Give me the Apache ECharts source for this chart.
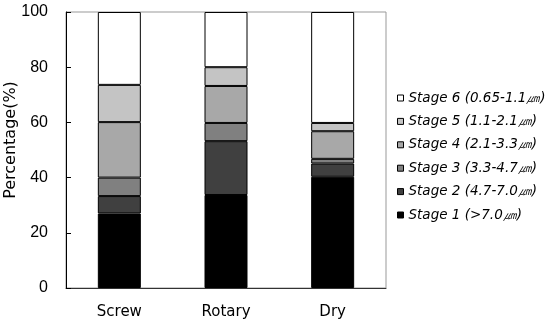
<!DOCTYPE html>
<html><head><meta charset="utf-8">
<script src="https://cdn.jsdelivr.net/npm/echarts@6/dist/echarts.min.js"></script>
<style>html,body{margin:0;padding:0;background:#fff}#c{width:550px;height:325px}</style>
</head><body><div id="c"></div>
<script>
const categories = ['Screw', 'Rotary', 'Dry'];
const stageNames = ['Stage 1 (>7.0㎛)', 'Stage 2 (4.7-7.0㎛)', 'Stage 3 (3.3-4.7㎛)', 'Stage 4 (2.1-3.3㎛)', 'Stage 5 (1.1-2.1㎛)', 'Stage 6 (0.65-1.1㎛)'];
const stage1 = [27.0, 33.7, 40.3];
const stage2 = [6.3, 19.5, 4.8];
const stage3 = [6.7, 6.6, 1.7];
const stage4 = [20.1, 13.4, 10.0];
const stage5 = [13.5, 6.8, 3.0];
const stage6 = [26.4, 20.0, 40.2];
const yTicks = [0, 20, 40, 60, 80, 100];
const colors = ['#000000', '#404040', '#808080', '#a8a8a8', '#c4c4c4', '#ffffff'];
const stages = [stage1, stage2, stage3, stage4, stage5, stage6];

const chart = echarts.init(document.getElementById('c'), null, {renderer: 'canvas'});
chart.setOption({
  animation: false,
  backgroundColor: '#fff',
  grid: {left: 66, right: 164, top: 12, bottom: 37, show: true, borderColor: '#999', borderWidth: 1, backgroundColor: 'transparent', containLabel: false, outerBoundsMode: 'none'},
  legend: {
    orient: 'vertical', left: 397, top: 91, padding: 0,
    data: stageNames.slice().reverse(),
    itemWidth: 6, itemHeight: 6, itemGap: 9.4,
    icon: 'rect',
    textStyle: {fontFamily: 'DejaVu Sans', fontStyle: 'italic', fontSize: 13.5, color: '#000', lineHeight: 14},
    itemStyle: {borderColor: '#000', borderWidth: 1}
  },
  xAxis: {
    type: 'category', data: categories,
    axisLine: {lineStyle: {color: '#333', width: 1}},
    axisTick: {show: false},
    axisLabel: {fontFamily: 'DejaVu Sans', fontSize: 15, color: '#000', margin: 17}
  },
  yAxis: {
    type: 'value', min: 0, max: 100, interval: 20,
    name: 'Percentage(%)', nameLocation: 'middle', nameGap: 47, nameRotate: 90, nameMoveOverlap: false,
    nameTextStyle: {fontFamily: 'DejaVu Sans', fontSize: 16, color: '#000', padding: [0, 0, 0, 20]},
    axisLine: {show: true, lineStyle: {color: '#000', width: 1}},
    axisTick: {show: true, inside: true, length: 5, lineStyle: {color: '#000'}},
    splitLine: {show: false},
    axisLabel: {fontFamily: 'Liberation Sans, Arial', fontSize: 16, color: '#000', margin: 18,
      formatter: v => yTicks.includes(v) ? String(v) : ''}
  },
  series: stages.map((d, i) => ({
    name: stageNames[i], type: 'bar', stack: 'total', data: d,
    barWidth: 43,
    itemStyle: {color: colors[i], borderColor: '#000', borderWidth: 1}
  }))
});
</script></body></html>
